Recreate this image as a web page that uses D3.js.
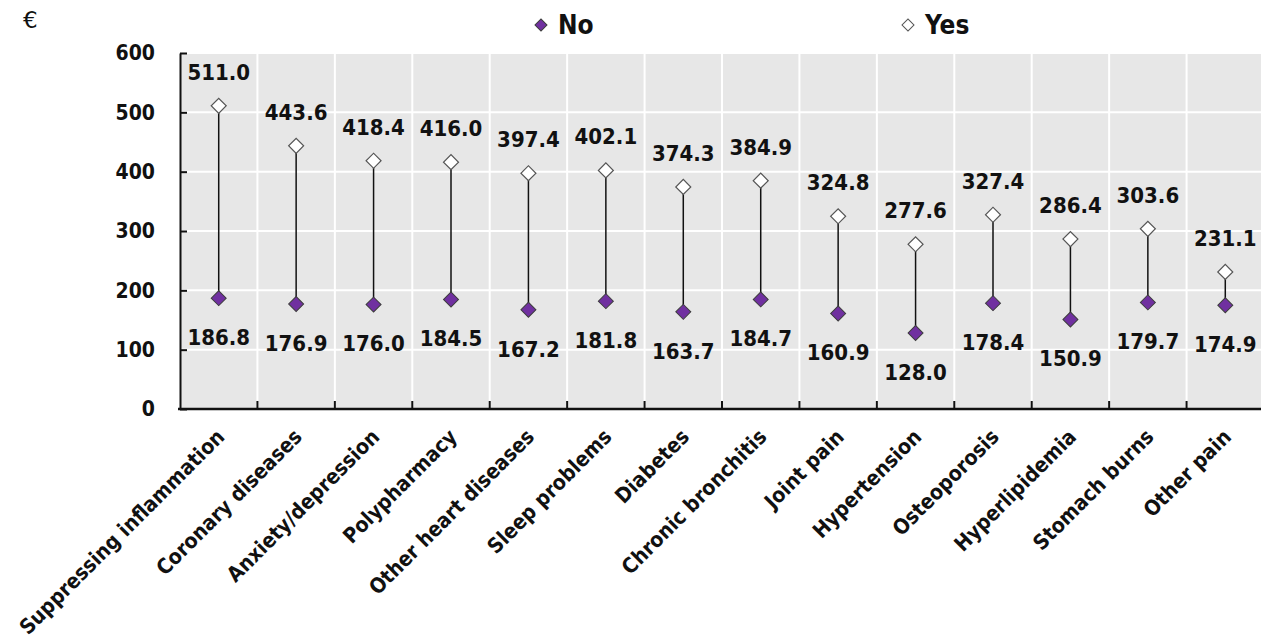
<!DOCTYPE html>
<html>
<head>
<meta charset="utf-8">
<script src="https://cdn.jsdelivr.net/npm/d3@7"></script>
<style>
  html, body { margin: 0; padding: 0; background: #fff; }
  svg { display: block; }
  text { font-family: "DejaVu Sans Condensed", "DejaVu Sans", sans-serif; font-weight: bold; fill: #111; }
</style>
</head>
<body>
<svg id="chart" width="1261" height="639"></svg>
<script>
// Average monthly cost (€) by condition, split by answer No / Yes
const categories = [
  "Suppressing inflammation", "Coronary diseases", "Anxiety/depression", "Polypharmacy",
  "Other heart diseases", "Sleep problems", "Diabetes", "Chronic bronchitis",
  "Joint pain", "Hypertension", "Osteoporosis", "Hyperlipidemia",
  "Stomach burns", "Other pain"
];
const valuesNo  = [186.8, 176.9, 176.0, 184.5, 167.2, 181.8, 163.7, 184.7, 160.9, 128.0, 178.4, 150.9, 179.7, 174.9];
const valuesYes = [511.0, 443.6, 418.4, 416.0, 397.4, 402.1, 374.3, 384.9, 324.8, 277.6, 327.4, 286.4, 303.6, 231.1];
const yTicks = [0, 100, 200, 300, 400, 500, 600];
const seriesNames = ["No", "Yes"];

const svg = d3.select("#chart");
const plotL = 180, plotR = 1264, plotT = 53, plotB = 409;

const x = d3.scaleBand().domain(categories).range([plotL, plotR]);
const y = d3.scaleLinear().domain([0, 600]).range([plotB, plotT]);

// plot background
svg.append("rect")
  .attr("x", plotL).attr("y", plotT)
  .attr("width", plotR - plotL).attr("height", plotB - plotT)
  .attr("fill", "#e7e7e7");

// white grid lines
svg.append("g").selectAll("line")
  .data(yTicks.filter(t => t > 0))
  .join("line")
  .attr("x1", plotL).attr("x2", plotR)
  .attr("y1", d => y(d)).attr("y2", d => y(d))
  .attr("stroke", "#fff").attr("stroke-width", 2);

svg.append("g").selectAll("line")
  .data(categories.slice(1))
  .join("line")
  .attr("x1", d => x(d)).attr("x2", d => x(d))
  .attr("y1", plotT).attr("y2", plotB)
  .attr("stroke", "#fff").attr("stroke-width", 2);

// y axis with inward ticks
const yAxis = svg.append("g")
  .attr("transform", `translate(${plotL},0)`)
  .call(d3.axisLeft(y).tickValues(yTicks).tickSize(-7).tickPadding(25).tickSizeOuter(0));
yAxis.select(".domain").attr("stroke", "#111").attr("stroke-width", 2);
yAxis.selectAll(".tick line").attr("stroke", "#111").attr("stroke-width", 2);
yAxis.selectAll(".tick text")
  .attr("font-size", 21)
  .style("font-family", '"DejaVu Sans Condensed", sans-serif')
  .style("font-weight", "bold").attr("fill", "#111");

// x axis with inward ticks at category boundaries
const xAxis = svg.append("g").attr("transform", `translate(0,${plotB})`);
xAxis.append("line")
  .attr("x1", plotL - 2).attr("x2", plotR)
  .attr("y1", 0).attr("y2", 0)
  .attr("stroke", "#111").attr("stroke-width", 2.5);
xAxis.selectAll("line.tk")
  .data(categories.slice(1))
  .join("line")
  .attr("class", "tk")
  .attr("x1", d => x(d)).attr("x2", d => x(d))
  .attr("y1", 0).attr("y2", -8)
  .attr("stroke", "#111").attr("stroke-width", 2);
xAxis.selectAll("text.cat")
  .data(categories)
  .join("text")
  .attr("class", "cat")
  .attr("transform", d => `translate(${x(d) + x.bandwidth() / 2 - 4},${18}) rotate(-45)`)
  .attr("text-anchor", "end")
  .attr("dy", "0.75em")
  .attr("font-size", 21)
  .text(d => d);

// connectors between No and Yes
const cx = d => x(d) + x.bandwidth() / 2;
svg.append("g").selectAll("line")
  .data(categories)
  .join("line")
  .attr("x1", cx).attr("x2", cx)
  .attr("y1", (d, i) => y(valuesNo[i]))
  .attr("y2", (d, i) => y(valuesYes[i]))
  .attr("stroke", "#111").attr("stroke-width", 1.5);

const diamond = (s) => d3.symbol(d3.symbolSquare, s)();

// markers
svg.append("g").selectAll("path")
  .data(categories)
  .join("path")
  .attr("d", diamond(112))
  .attr("transform", (d, i) => `translate(${cx(d)},${y(valuesNo[i])}) rotate(45)`)
  .attr("fill", "#7030a0").attr("stroke", "#3d3d3d").attr("stroke-width", 1);

svg.append("g").selectAll("path")
  .data(categories)
  .join("path")
  .attr("d", diamond(112))
  .attr("transform", (d, i) => `translate(${cx(d)},${y(valuesYes[i])}) rotate(45)`)
  .attr("fill", "#fff").attr("stroke", "#555").attr("stroke-width", 1.2);

// value labels
svg.append("g").selectAll("text")
  .data(categories)
  .join("text")
  .attr("x", cx)
  .attr("y", (d, i) => y(valuesYes[i]) - 34)
  .attr("dy", "0.36em")
  .attr("text-anchor", "middle")
  .attr("font-size", 22)
  .text((d, i) => valuesYes[i].toFixed(1));

svg.append("g").selectAll("text")
  .data(categories)
  .join("text")
  .attr("x", cx)
  .attr("y", (d, i) => y(valuesNo[i]) + 39)
  .attr("dy", "0.36em")
  .attr("text-anchor", "middle")
  .attr("font-size", 22)
  .text((d, i) => valuesNo[i].toFixed(1));

// unit label
svg.append("text")
  .attr("x", 23).attr("y", 28)
  .attr("font-size", 23)
  .style("font-weight", "normal")
  .style("font-family", '"DejaVu Sans", sans-serif')
  .text("€");

// legend
const legend = svg.append("g");
const legendItems = [
  { name: seriesNames[0], x: 541, fill: "#7030a0", stroke: "#3d3d3d" },
  { name: seriesNames[1], x: 908, fill: "#fff", stroke: "#555" }
];
legendItems.forEach(it => {
  legend.append("path")
    .attr("d", diamond(72))
    .attr("transform", `translate(${it.x},25) rotate(45)`)
    .attr("fill", it.fill).attr("stroke", it.stroke).attr("stroke-width", 1);
  legend.append("text")
    .attr("x", it.x + 17).attr("y", 25)
    .attr("dy", "0.36em")
    .attr("font-size", 26)
    .text(it.name);
});
</script>
</body>
</html>
